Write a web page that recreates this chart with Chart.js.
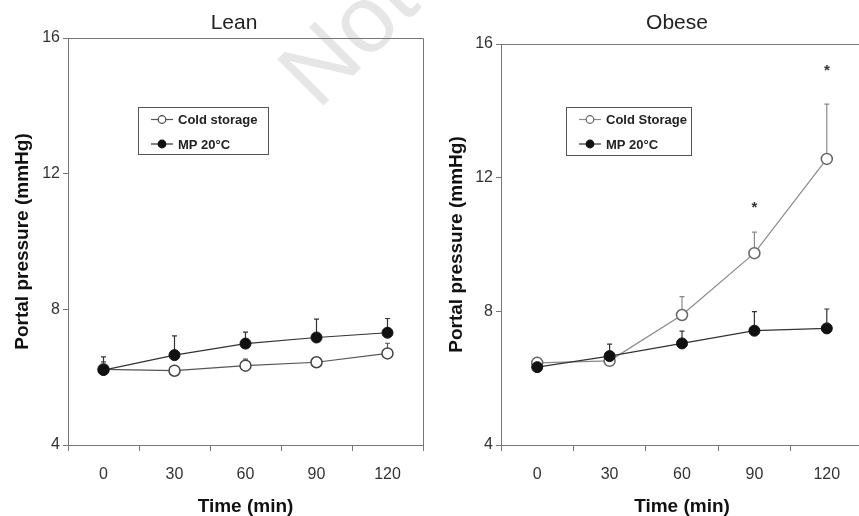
<!DOCTYPE html>
<html>
<head>
<meta charset="utf-8">
<script src="https://cdn.jsdelivr.net/npm/chart.js@4.4.1/dist/chart.umd.min.js"></script>
<style>
  html, body { margin: 0; padding: 0; background: #fff; overflow: hidden; width: 859px; height: 516px; }
  .panel { position: absolute; top: 0; }
</style>
</head>
<body>
<div class="panel" style="left:0"><canvas id="lean" width="430" height="516"></canvas></div>
<div class="panel" style="left:430px"><canvas id="obese" width="440" height="516"></canvas></div>
<script>
const timeLabels = ['0', '30', '60', '90', '120'];

const leanCold = [6.23, 6.19, 6.34, 6.44, 6.70];
const leanColdSem = [0.22, 0, 0.19, 0.13, 0.30];
const leanMP = [6.21, 6.65, 6.99, 7.17, 7.31];
const leanMPSem = [0.39, 0.57, 0.34, 0.54, 0.42];

const obeseCold = [6.46, 6.52, 7.89, 9.74, 12.56];
const obeseColdSem = [0.14, 0, 0.55, 0.63, 1.64];
const obeseMP = [6.33, 6.66, 7.04, 7.42, 7.49];
const obeseMPSem = [0, 0.36, 0.37, 0.57, 0.58];
const obeseStars = [null, null, null, 11.2, 15.3];

const yMin = 4, yMax = 16, yStep = 4;

const FONT = '"Liberation Sans", Arial, sans-serif';
const AXIS = '#777';

// error bars (upper half only, with a small cap), drawn under the markers
const errorBars = {
    id: 'errorBars',
    beforeDatasetsDraw(chart) {
        const {ctx, scales: {x, y}} = chart;
        ctx.save();
        ctx.lineWidth = 1.2;
        chart.data.datasets.forEach(ds => {
            if (!ds.sem) return;
            ctx.strokeStyle = ds.errColor;
            ds.data.forEach((v, i) => {
                if (!ds.sem[i]) return;
                const px = x.getPixelForValue(i);
                const y0 = y.getPixelForValue(v);
                const y1 = y.getPixelForValue(v + ds.sem[i]);
                ctx.beginPath();
                ctx.moveTo(px, y0);
                ctx.lineTo(px, y1);
                ctx.moveTo(px - 2.5, y1);
                ctx.lineTo(px + 2.5, y1);
                ctx.stroke();
            });
        });
        ctx.restore();
    }
};

// frame, title, legend box, asterisks
const decor = {
    id: 'decor',
    beforeDraw(chart, args, opts) {
        if (!opts.watermark) return;
        const {ctx} = chart;
        ctx.save();
        ctx.translate(opts.watermark.x, opts.watermark.y);
        ctx.rotate(-45 * Math.PI / 180);
        ctx.fillStyle = '#e6e6e6';
        ctx.font = '95px ' + FONT;
        ctx.textBaseline = 'alphabetic';
        ctx.fillText(opts.watermark.text, 0, 0);
        ctx.restore();
    },
    afterDraw(chart, args, opts) {
        const {ctx, chartArea: a, scales: {x, y}} = chart;
        ctx.save();
        // frame top + right
        ctx.strokeStyle = AXIS;
        ctx.lineWidth = 1;
        ctx.beginPath();
        ctx.moveTo(a.left, a.top + 0.5);
        ctx.lineTo(a.right + 0.5, a.top + 0.5);
        ctx.lineTo(a.right + 0.5, a.bottom);
        ctx.stroke();

        // title
        ctx.fillStyle = '#222';
        ctx.font = '21px ' + FONT;
        ctx.textAlign = 'center';
        ctx.textBaseline = 'middle';
        ctx.fillText(opts.title, opts.titleX, 23);

        // asterisks
        if (opts.stars) {
            ctx.font = 'bold 15px ' + FONT;
            ctx.fillStyle = '#333';
            opts.stars.forEach((v, i) => {
                if (v == null) return;
                ctx.fillText('*', x.getPixelForValue(i), y.getPixelForValue(v) + 3);
            });
        }

        // legend
        const L = opts.legend;
        const bx = a.left + L.x, by = a.top + L.y;
        ctx.strokeStyle = '#555';
        ctx.lineWidth = 1;
        ctx.strokeRect(bx + 0.5, by + 0.5, L.w, L.h);
        ctx.font = 'bold 13px ' + FONT;
        ctx.textAlign = 'left';
        ctx.fillStyle = '#222';
        chart.data.datasets.slice().sort((p, q) => q.order - p.order).forEach((ds, k) => {
            const ry = by + 12.5 + k * 24.5;
            ctx.strokeStyle = ds.borderColor;
            ctx.lineWidth = 1.2;
            ctx.beginPath();
            ctx.moveTo(bx + 13, ry);
            ctx.lineTo(bx + 35, ry);
            ctx.stroke();
            ctx.beginPath();
            ctx.arc(bx + 24, ry, 3.8, 0, Math.PI * 2);
            ctx.fillStyle = ds.pointBackgroundColor;
            ctx.fill();
            ctx.strokeStyle = ds.pointBorderColor;
            ctx.stroke();
            ctx.fillStyle = '#222';
            ctx.fillText(ds.label, bx + 40, ry + 1);
        });
        ctx.restore();
    }
};

function makePanel(id, cfg) {
    const ctx = document.getElementById(id).getContext('2d');
    return new Chart(ctx, {
        type: 'line',
        data: {
            labels: timeLabels,
            datasets: [
                {
                    label: cfg.coldLabel,
                    data: cfg.cold,
                    sem: cfg.coldSem,
                    order: 1,
                    borderColor: cfg.coldLine,
                    borderWidth: 1.2,
                    errColor: cfg.coldLine,
                    pointBackgroundColor: '#fff',
                    pointBorderColor: cfg.coldPoint,
                    pointBorderWidth: 1.5,
                    pointRadius: 5.5,
                    tension: 0
                },
                {
                    label: 'MP 20°C',
                    data: cfg.mp,
                    sem: cfg.mpSem,
                    order: 0,
                    borderColor: '#333',
                    borderWidth: 1.2,
                    errColor: '#333',
                    pointBackgroundColor: '#111',
                    pointBorderColor: '#111',
                    pointBorderWidth: 1,
                    pointRadius: 5.5,
                    tension: 0
                }
            ]
        },
        options: {
            responsive: false,
            animation: false,
            layout: { padding: { top: cfg.top, right: cfg.right, left: 0, bottom: 0 } },
            plugins: {
                legend: { display: false },
                tooltip: { enabled: false },
                decor: {
                    title: cfg.title,
                    titleX: cfg.titleX,
                    legend: cfg.legendBox,
                    stars: cfg.stars,
                    watermark: cfg.watermark
                }
            },
            scales: {
                x: {
                    type: 'category',
                    offset: true,
                    grid: { offset: true, drawOnChartArea: false, tickLength: 6, color: AXIS },
                    border: { color: AXIS },
                    ticks: { font: { family: FONT, size: 16 }, color: '#333', padding: 14 },
                    title: {
                        display: true,
                        text: 'Time (min)',
                        color: '#111',
                        font: { family: FONT, size: 19, weight: 'bold', lineHeight: 1 },
                        padding: { top: 0, bottom: 0 }
                    },
                    afterFit(s) { s.height = 71; }
                },
                y: {
                    min: yMin,
                    max: yMax,
                    grid: { drawOnChartArea: false, tickLength: 5, color: AXIS },
                    border: { color: AXIS },
                    ticks: { stepSize: yStep, font: { family: FONT, size: 16 }, color: '#333', padding: 3 },
                    title: {
                        display: true,
                        text: 'Portal pressure (mmHg)',
                        color: '#111',
                        font: { family: FONT, size: 19, weight: 'bold', lineHeight: 1 },
                        padding: { top: cfg.yTitlePad, bottom: 0 }
                    },
                    afterFit(s) { s.width = cfg.yWidth; }
                }
            }
        },
        plugins: [errorBars, decor]
    });
}

makePanel('lean', {
    title: 'Lean', titleX: 234,
    coldLabel: 'Cold storage',
    cold: leanCold, coldSem: leanColdSem,
    mp: leanMP, mpSem: leanMPSem,
    coldLine: '#555', coldPoint: '#444',
    top: 38, right: 6, yWidth: 68, yTitlePad: 13.5,
    legendBox: { x: 70, y: 69, w: 130, h: 47 },
    watermark: { text: 'Not', x: 318, y: 111 }
});

makePanel('obese', {
    title: 'Obese', titleX: 247,
    coldLabel: 'Cold Storage',
    cold: obeseCold, coldSem: obeseColdSem,
    mp: obeseMP, mpSem: obeseMPSem,
    coldLine: '#8a8a8a', coldPoint: '#666',
    top: 44, right: 4, yWidth: 71, yTitlePad: 17.5,
    legendBox: { x: 65, y: 63, w: 125, h: 48 },
    stars: obeseStars
});
</script>
</body>
</html>
